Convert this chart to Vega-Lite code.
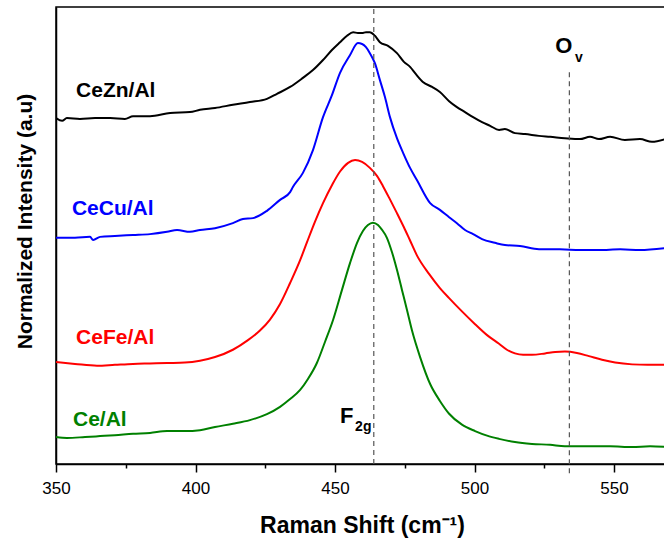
{
  "$schema": "https://vega.github.io/schema/vega-lite/v6.json",
  "width": 612,
  "height": 457,
  "autosize": {"type": "none"},
  "padding": {"left": 56, "top": 7, "right": 0, "bottom": 84},
  "background": "white",
  "config": {
    "view": {"stroke": "black", "strokeWidth": 1.5},
    "font": "Liberation Sans",
    "axis": {"domainColor": "black", "domainWidth": 1.5, "tickColor": "black", "tickWidth": 1.5, "grid": false, "labelColor": "black", "titleColor": "black", "labelFont": "Liberation Sans", "titleFont": "Liberation Sans"}
  },
  "datasets": {
    "spectra": [
      {"s":"CeZn/Al","x":350.0,"y":75.7},{"s":"CeZn/Al","x":352.2,"y":75.1},{"s":"CeZn/Al","x":353.9,"y":75.7},{"s":"CeZn/Al","x":358.6,"y":75.5},{"s":"CeZn/Al","x":364.0,"y":75.7},{"s":"CeZn/Al","x":369.4,"y":75.7},{"s":"CeZn/Al","x":374.7,"y":75.5},{"s":"CeZn/Al","x":377.6,"y":76.1},{"s":"CeZn/Al","x":383.7,"y":76.1},{"s":"CeZn/Al","x":390.9,"y":76.8},{"s":"CeZn/Al","x":398.0,"y":77.0},{"s":"CeZn/Al","x":401.6,"y":77.5},{"s":"CeZn/Al","x":407.0,"y":77.9},{"s":"CeZn/Al","x":413.4,"y":78.6},{"s":"CeZn/Al","x":419.5,"y":79.2},{"s":"CeZn/Al","x":425.6,"y":79.9},{"s":"CeZn/Al","x":429.2,"y":81.0},{"s":"CeZn/Al","x":433.9,"y":82.5},{"s":"CeZn/Al","x":438.5,"y":84.5},{"s":"CeZn/Al","x":442.1,"y":86.2},{"s":"CeZn/Al","x":445.7,"y":88.4},{"s":"CeZn/Al","x":448.9,"y":90.6},{"s":"CeZn/Al","x":451.8,"y":92.3},{"s":"CeZn/Al","x":454.3,"y":93.7},{"s":"CeZn/Al","x":456.5,"y":94.5},{"s":"CeZn/Al","x":458.2,"y":94.3},{"s":"CeZn/Al","x":459.7,"y":94.3},{"s":"CeZn/Al","x":461.1,"y":94.5},{"s":"CeZn/Al","x":462.5,"y":94.5},{"s":"CeZn/Al","x":464.3,"y":93.7},{"s":"CeZn/Al","x":466.1,"y":92.3},{"s":"CeZn/Al","x":469.0,"y":91.5},{"s":"CeZn/Al","x":472.2,"y":89.9},{"s":"CeZn/Al","x":474.7,"y":88.0},{"s":"CeZn/Al","x":476.9,"y":86.9},{"s":"CeZn/Al","x":479.0,"y":85.3},{"s":"CeZn/Al","x":481.5,"y":83.6},{"s":"CeZn/Al","x":484.8,"y":82.5},{"s":"CeZn/Al","x":487.6,"y":81.4},{"s":"CeZn/Al","x":490.9,"y":79.4},{"s":"CeZn/Al","x":493.7,"y":78.1},{"s":"CeZn/Al","x":496.6,"y":77.0},{"s":"CeZn/Al","x":499.5,"y":75.9},{"s":"CeZn/Al","x":502.7,"y":74.8},{"s":"CeZn/Al","x":505.6,"y":74.0},{"s":"CeZn/Al","x":508.8,"y":73.1},{"s":"CeZn/Al","x":510.9,"y":73.3},{"s":"CeZn/Al","x":514.5,"y":72.4},{"s":"CeZn/Al","x":518.1,"y":72.2},{"s":"CeZn/Al","x":523.1,"y":71.8},{"s":"CeZn/Al","x":527.1,"y":71.6},{"s":"CeZn/Al","x":532.4,"y":71.3},{"s":"CeZn/Al","x":537.8,"y":71.1},{"s":"CeZn/Al","x":541.4,"y":71.6},{"s":"CeZn/Al","x":544.6,"y":71.1},{"s":"CeZn/Al","x":548.6,"y":71.6},{"s":"CeZn/Al","x":553.9,"y":70.9},{"s":"CeZn/Al","x":559.3,"y":71.1},{"s":"CeZn/Al","x":563.6,"y":70.5},{"s":"CeZn/Al","x":569.3,"y":71.3},
      {"s":"CeCu/Al","x":350.0,"y":49.5},{"s":"CeCu/Al","x":356.8,"y":49.5},{"s":"CeCu/Al","x":362.2,"y":49.7},{"s":"CeCu/Al","x":363.3,"y":49.0},{"s":"CeCu/Al","x":365.8,"y":49.7},{"s":"CeCu/Al","x":371.1,"y":49.9},{"s":"CeCu/Al","x":377.6,"y":50.1},{"s":"CeCu/Al","x":383.7,"y":50.3},{"s":"CeCu/Al","x":389.8,"y":50.8},{"s":"CeCu/Al","x":393.4,"y":51.2},{"s":"CeCu/Al","x":398.0,"y":50.8},{"s":"CeCu/Al","x":401.6,"y":51.2},{"s":"CeCu/Al","x":407.0,"y":51.6},{"s":"CeCu/Al","x":413.4,"y":52.7},{"s":"CeCu/Al","x":417.0,"y":53.6},{"s":"CeCu/Al","x":420.6,"y":53.8},{"s":"CeCu/Al","x":425.6,"y":55.4},{"s":"CeCu/Al","x":430.3,"y":57.8},{"s":"CeCu/Al","x":433.9,"y":59.5},{"s":"CeCu/Al","x":434.9,"y":60.6},{"s":"CeCu/Al","x":438.5,"y":63.7},{"s":"CeCu/Al","x":442.1,"y":68.7},{"s":"CeCu/Al","x":445.7,"y":75.9},{"s":"CeCu/Al","x":448.9,"y":80.7},{"s":"CeCu/Al","x":451.8,"y":85.6},{"s":"CeCu/Al","x":455.4,"y":89.5},{"s":"CeCu/Al","x":458.2,"y":92.1},{"s":"CeCu/Al","x":459.7,"y":91.9},{"s":"CeCu/Al","x":461.1,"y":91.2},{"s":"CeCu/Al","x":462.5,"y":89.9},{"s":"CeCu/Al","x":464.3,"y":87.7},{"s":"CeCu/Al","x":466.1,"y":84.0},{"s":"CeCu/Al","x":467.9,"y":80.3},{"s":"CeCu/Al","x":469.7,"y":75.9},{"s":"CeCu/Al","x":472.2,"y":71.3},{"s":"CeCu/Al","x":474.4,"y":68.1},{"s":"CeCu/Al","x":476.9,"y":64.8},{"s":"CeCu/Al","x":479.4,"y":62.1},{"s":"CeCu/Al","x":484.1,"y":57.1},{"s":"CeCu/Al","x":487.6,"y":55.6},{"s":"CeCu/Al","x":490.9,"y":54.0},{"s":"CeCu/Al","x":493.7,"y":52.7},{"s":"CeCu/Al","x":496.6,"y":51.2},{"s":"CeCu/Al","x":499.5,"y":50.3},{"s":"CeCu/Al","x":502.7,"y":49.2},{"s":"CeCu/Al","x":507.3,"y":48.4},{"s":"CeCu/Al","x":510.9,"y":47.9},{"s":"CeCu/Al","x":516.3,"y":47.7},{"s":"CeCu/Al","x":523.1,"y":47.0},{"s":"CeCu/Al","x":530.6,"y":47.0},{"s":"CeCu/Al","x":537.8,"y":46.8},{"s":"CeCu/Al","x":544.6,"y":46.8},{"s":"CeCu/Al","x":552.2,"y":47.0},{"s":"CeCu/Al","x":559.3,"y":46.8},{"s":"CeCu/Al","x":569.3,"y":47.3},
      {"s":"CeFe/Al","x":350.0,"y":22.3},{"s":"CeFe/Al","x":356.8,"y":21.9},{"s":"CeFe/Al","x":364.7,"y":21.5},{"s":"CeFe/Al","x":371.1,"y":21.7},{"s":"CeFe/Al","x":377.6,"y":21.9},{"s":"CeFe/Al","x":383.7,"y":22.0},{"s":"CeFe/Al","x":389.8,"y":22.1},{"s":"CeFe/Al","x":396.2,"y":22.2},{"s":"CeFe/Al","x":401.6,"y":22.6},{"s":"CeFe/Al","x":407.0,"y":23.4},{"s":"CeFe/Al","x":413.4,"y":25.0},{"s":"CeFe/Al","x":418.8,"y":27.1},{"s":"CeFe/Al","x":423.1,"y":29.2},{"s":"CeFe/Al","x":426.7,"y":31.6},{"s":"CeFe/Al","x":430.3,"y":35.0},{"s":"CeFe/Al","x":433.9,"y":39.6},{"s":"CeFe/Al","x":437.5,"y":44.6},{"s":"CeFe/Al","x":440.0,"y":48.6},{"s":"CeFe/Al","x":442.8,"y":53.0},{"s":"CeFe/Al","x":445.7,"y":57.1},{"s":"CeFe/Al","x":448.9,"y":61.0},{"s":"CeFe/Al","x":451.8,"y":64.0},{"s":"CeFe/Al","x":454.7,"y":65.9},{"s":"CeFe/Al","x":457.2,"y":66.5},{"s":"CeFe/Al","x":459.7,"y":66.1},{"s":"CeFe/Al","x":462.5,"y":64.8},{"s":"CeFe/Al","x":465.1,"y":63.0},{"s":"CeFe/Al","x":467.2,"y":60.8},{"s":"CeFe/Al","x":469.7,"y":57.9},{"s":"CeFe/Al","x":472.2,"y":54.9},{"s":"CeFe/Al","x":474.7,"y":51.8},{"s":"CeFe/Al","x":476.9,"y":48.9},{"s":"CeFe/Al","x":479.4,"y":45.6},{"s":"CeFe/Al","x":483.7,"y":41.6},{"s":"CeFe/Al","x":487.6,"y":38.5},{"s":"CeFe/Al","x":490.9,"y":36.3},{"s":"CeFe/Al","x":495.5,"y":33.4},{"s":"CeFe/Al","x":500.2,"y":30.6},{"s":"CeFe/Al","x":504.5,"y":28.2},{"s":"CeFe/Al","x":508.8,"y":26.3},{"s":"CeFe/Al","x":511.6,"y":25.0},{"s":"CeFe/Al","x":514.5,"y":24.2},{"s":"CeFe/Al","x":517.4,"y":23.9},{"s":"CeFe/Al","x":520.6,"y":23.9},{"s":"CeFe/Al","x":525.3,"y":24.2},{"s":"CeFe/Al","x":528.9,"y":24.5},{"s":"CeFe/Al","x":532.4,"y":24.6},{"s":"CeFe/Al","x":536.7,"y":24.3},{"s":"CeFe/Al","x":541.0,"y":23.6},{"s":"CeFe/Al","x":545.7,"y":22.8},{"s":"CeFe/Al","x":550.4,"y":22.2},{"s":"CeFe/Al","x":556.5,"y":21.8},{"s":"CeFe/Al","x":562.0,"y":21.7},{"s":"CeFe/Al","x":569.3,"y":21.7},
      {"s":"Ce/Al","x":350.0,"y":5.9},{"s":"Ce/Al","x":353.9,"y":5.7},{"s":"Ce/Al","x":360.4,"y":5.9},{"s":"Ce/Al","x":365.8,"y":6.1},{"s":"Ce/Al","x":371.1,"y":6.3},{"s":"Ce/Al","x":377.6,"y":6.6},{"s":"Ce/Al","x":383.7,"y":6.8},{"s":"Ce/Al","x":389.8,"y":7.2},{"s":"Ce/Al","x":396.2,"y":7.2},{"s":"Ce/Al","x":401.6,"y":7.4},{"s":"Ce/Al","x":407.0,"y":8.1},{"s":"Ce/Al","x":413.4,"y":8.8},{"s":"Ce/Al","x":419.5,"y":9.6},{"s":"Ce/Al","x":425.6,"y":10.9},{"s":"Ce/Al","x":430.3,"y":12.5},{"s":"Ce/Al","x":433.9,"y":14.2},{"s":"Ce/Al","x":437.5,"y":16.2},{"s":"Ce/Al","x":440.3,"y":18.6},{"s":"Ce/Al","x":443.5,"y":22.1},{"s":"Ce/Al","x":446.4,"y":26.7},{"s":"Ce/Al","x":449.3,"y":31.5},{"s":"Ce/Al","x":452.5,"y":38.1},{"s":"Ce/Al","x":455.4,"y":44.0},{"s":"Ce/Al","x":457.9,"y":48.4},{"s":"Ce/Al","x":460.0,"y":51.0},{"s":"Ce/Al","x":461.8,"y":52.3},{"s":"Ce/Al","x":463.6,"y":52.8},{"s":"Ce/Al","x":465.4,"y":52.3},{"s":"Ce/Al","x":466.8,"y":51.3},{"s":"Ce/Al","x":468.6,"y":49.5},{"s":"Ce/Al","x":470.4,"y":46.4},{"s":"Ce/Al","x":472.2,"y":42.5},{"s":"Ce/Al","x":474.0,"y":38.1},{"s":"Ce/Al","x":475.8,"y":33.7},{"s":"Ce/Al","x":477.6,"y":29.2},{"s":"Ce/Al","x":480.5,"y":23.4},{"s":"Ce/Al","x":484.1,"y":17.5},{"s":"Ce/Al","x":487.6,"y":13.8},{"s":"Ce/Al","x":490.9,"y":11.0},{"s":"Ce/Al","x":495.5,"y":8.6},{"s":"Ce/Al","x":500.2,"y":7.2},{"s":"Ce/Al","x":504.5,"y":6.2},{"s":"Ce/Al","x":508.8,"y":5.5},{"s":"Ce/Al","x":514.5,"y":4.8},{"s":"Ce/Al","x":520.6,"y":4.4},{"s":"Ce/Al","x":527.1,"y":4.2},{"s":"Ce/Al","x":532.4,"y":3.9},{"s":"Ce/Al","x":541.4,"y":3.9},{"s":"Ce/Al","x":548.6,"y":3.9},{"s":"Ce/Al","x":556.5,"y":3.7},{"s":"Ce/Al","x":562.9,"y":3.9},{"s":"Ce/Al","x":569.3,"y":3.7}
    ],
    "refs": [
      {"x": 463.9, "y": 0, "y2": 100},
      {"x": 534.0, "y": -2, "y2": 85.8}
    ],
    "labels": [
      {"s": "CeZn/Al", "x": 357.2, "y": 80.3},
      {"s": "CeCu/Al", "x": 355.7, "y": 54.5},
      {"s": "CeFe/Al", "x": 357.2, "y": 26.3},
      {"s": "Ce/Al", "x": 356.1, "y": 8.3}
    ],
    "big": [
      {"t": "F", "x": 451.8, "y": 9.0},
      {"t": "O", "x": 528.9, "y": 89.9}
    ],
    "sub": [
      {"t": "2g", "x": 457.2, "y": 7.2},
      {"t": "v", "x": 536.0, "y": 88.0}
    ]
  },
  "encoding": {
    "x": {"field": "x", "type": "quantitative", "scale": {"domain": [350, 569.35], "nice": false, "zero": false},
          "axis": {"orient": "bottom", "values": [350, 375, 400, 425, 450, 475, 500, 525, 550],
                   "tickSize": {"condition": {"test": "datum.value % 50 === 0", "value": 8}, "value": 4},
                   "labelExpr": "datum.value % 50 === 0 ? datum.label : ''",
                   "labelFontSize": 17, "labelPadding": 8, "title": "Raman Shift (cm⁻¹)", "titleFontSize": 23, "titleFontWeight": "bold", "titlePadding": 18, "labelFlush": false}},
    "y": {"field": "y", "type": "quantitative", "scale": {"domain": [0, 100], "nice": false, "zero": false},
          "axis": {"orient": "left", "labels": false, "ticks": false, "title": "Normalized Intensity (a.u)", "titleFontSize": 21, "titleFontWeight": "bold", "titlePadding": 21, "titleY": 214}}
  },
  "layer": [
    {
      "data": {"name": "spectra"},
      "mark": {"type": "line", "strokeWidth": 2, "interpolate": "monotone", "clip": true},
      "encoding": {
        "color": {"field": "s", "type": "nominal", "scale": {"domain": ["CeZn/Al", "CeCu/Al", "CeFe/Al", "Ce/Al"], "range": ["#000000", "#0000ff", "#ff0000", "#008000"]}, "legend": null}
      }
    },
    {
      "data": {"name": "refs"},
      "mark": {"type": "rule", "strokeDash": [5, 4], "color": "#555555", "strokeWidth": 1.2},
      "encoding": {
        "y2": {"field": "y2"}
      }
    },
    {
      "data": {"name": "labels"},
      "mark": {"type": "text", "align": "left", "baseline": "alphabetic", "fontSize": 21, "fontWeight": "bold", "font": "Liberation Sans"},
      "encoding": {
        "text": {"field": "s"},
        "color": {"field": "s", "type": "nominal", "legend": null}
      }
    },
    {
      "data": {"name": "big"},
      "mark": {"type": "text", "align": "left", "baseline": "alphabetic", "fontSize": 22, "fontWeight": "bold", "font": "Liberation Sans", "color": "black"},
      "encoding": {
        "text": {"field": "t"}
      }
    },
    {
      "data": {"name": "sub"},
      "mark": {"type": "text", "align": "left", "baseline": "alphabetic", "fontSize": 14, "fontWeight": "bold", "font": "Liberation Sans", "color": "black"},
      "encoding": {
        "text": {"field": "t"}
      }
    }
  ]
}
